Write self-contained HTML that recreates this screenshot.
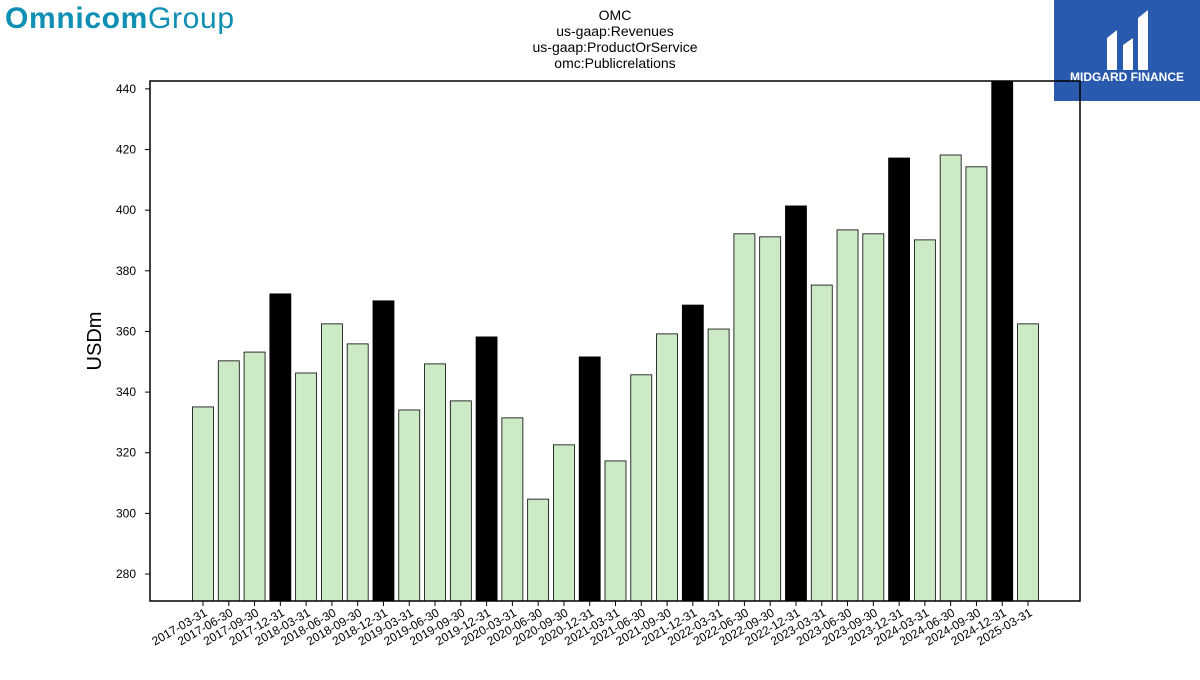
<!DOCTYPE html>
<html><head><meta charset="utf-8"><style>
body{margin:0;background:#fff;width:1200px;height:675px;overflow:hidden;font-family:"Liberation Sans",sans-serif}
</style></head><body>
<svg width="1200" height="675" xmlns="http://www.w3.org/2000/svg">
<g>
<text x="5" y="28" font-size="30" font-weight="bold" fill="#0e8fb3" font-family="Liberation Sans" textLength="229">Omnicom<tspan font-weight="normal">Group</tspan></text>
</g>
<g>
<rect x="1054" y="0" width="146" height="101" fill="#2a5aad"/>
<path d="M1107 70 L1107 38 L1117 30 L1117 70 Z M1123 70 L1123 45 L1133 38 L1133 70 Z M1138 70 L1138 18 L1148 10 L1148 70 Z" fill="#fff"/>
<text x="1127" y="81" font-size="12" font-weight="bold" fill="#fff" text-anchor="middle">MIDGARD FINANCE</text>
</g>
<g font-size="14" text-anchor="middle" fill="#000">
<text x="615" y="20">OMC</text><text x="615" y="36">us-gaap:Revenues</text>
<text x="615" y="52">us-gaap:ProductOrService</text><text x="615" y="68">omc:Publicrelations</text>
</g>
<text x="101" y="341" font-size="20" text-anchor="middle" transform="rotate(-90 101 341)">USDm</text>
<g id="bars"></g><g id="axes"></g>
<rect x="150" y="81" width="930" height="520" fill="none" stroke="#000" stroke-width="1.5"/>
</svg>
<script>
const categories=["2017-03-31","2017-06-30","2017-09-30","2017-12-31","2018-03-31","2018-06-30","2018-09-30","2018-12-31","2019-03-31","2019-06-30","2019-09-30","2019-12-31","2020-03-31","2020-06-30","2020-09-30","2020-12-31","2021-03-31","2021-06-30","2021-09-30","2021-12-31","2022-03-31","2022-06-30","2022-09-30","2022-12-31","2023-03-31","2023-06-30","2023-09-30","2023-12-31","2024-03-31","2024-06-30","2024-09-30","2024-12-31","2025-03-31"];
const values=[335.1,350.3,353.2,372.4,346.3,362.5,355.9,370.1,334.1,349.3,337.1,358.2,331.5,304.7,322.6,351.6,317.3,345.7,359.2,368.7,360.8,392.2,391.2,401.4,375.3,393.5,392.2,417.2,390.2,418.2,414.3,445,362.5];
const yTicks=[280,300,320,340,360,380,400,420,440];
const NS="http://www.w3.org/2000/svg";
const yMin=271.1,yMax=442.6,plotTop=81,plotBot=601;
function yS(v){return plotBot-(v-yMin)/(yMax-yMin)*(plotBot-plotTop);}
function xS(i){return 203+i*(825/32);}
const bars=document.getElementById('bars'),axes=document.getElementById('axes');
categories.forEach((c,i)=>{
 const q4=c.endsWith("12-31");
 const r=document.createElementNS(NS,'rect');
 
 
 const yt=Math.max(yS(values[i]),plotTop);
 r.setAttribute('x',xS(i)-10.5);r.setAttribute('y',yt);r.setAttribute('width',21);r.setAttribute('height',plotBot-yt);
 r.setAttribute('fill',q4?'#000':'#cdeac6');r.setAttribute('stroke','#000');r.setAttribute('stroke-width','0.8');
 bars.appendChild(r);
 const t=document.createElementNS(NS,'line');
 
 
 t.setAttribute('x1',xS(i));t.setAttribute('x2',xS(i));t.setAttribute('y1',plotBot);t.setAttribute('y2',plotBot+5);t.setAttribute('stroke','#000');
 axes.appendChild(t);
 const l=document.createElementNS(NS,'text');
 
 
 l.setAttribute('font-size','12');l.setAttribute('text-anchor','end');
 l.setAttribute('transform','translate('+(xS(i)+5)+','+(plotBot+14)+') rotate(-30)');
 l.textContent=c;axes.appendChild(l);
});
yTicks.forEach(v=>{
 const t=document.createElementNS(NS,'line');
 
 
 t.setAttribute('x1',145);t.setAttribute('x2',150);t.setAttribute('y1',yS(v));t.setAttribute('y2',yS(v));t.setAttribute('stroke','#000');
 axes.appendChild(t);
 const l=document.createElementNS(NS,'text');
 
 
 l.setAttribute('x',136);l.setAttribute('y',yS(v)+4);l.setAttribute('font-size','12');l.setAttribute('text-anchor','end');
 l.textContent=v;axes.appendChild(l);
});
</script>
</body></html>
